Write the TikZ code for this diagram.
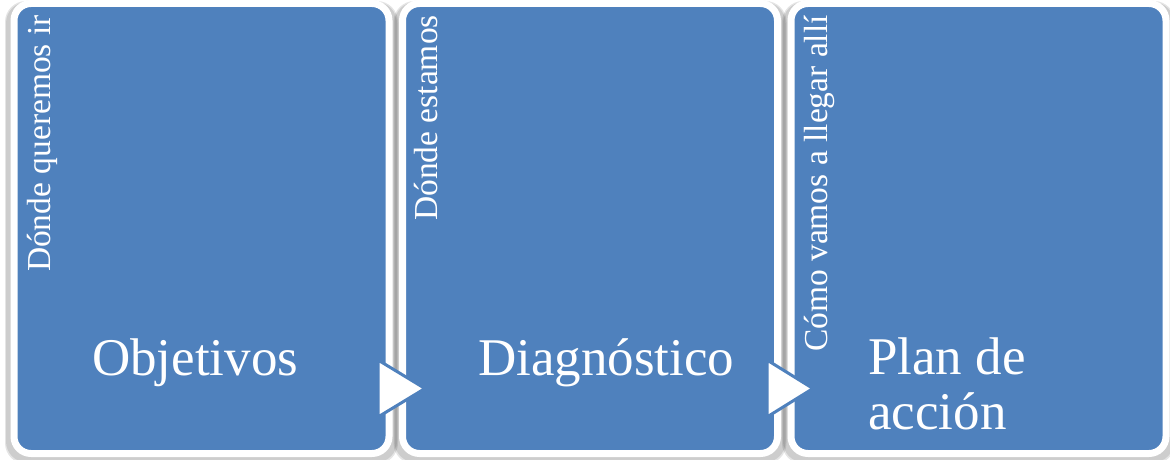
\documentclass[tikz,border=0pt]{standalone}
\usepackage{fontspec}
\setmainfont{Liberation Serif}
\usetikzlibrary{backgrounds}
\definecolor{panelblue}{HTML}{4F81BD}
\begin{document}
\begin{tikzpicture}[x=1pt,y=1pt,
  panel/.style={rectangle, fill=panelblue, draw=white, line width=7pt,
    rounded corners=17pt, minimum width=375pt, minimum height=450pt, inner sep=0pt},
  panelshadow/.style={fill=black, opacity=0.10, rounded corners=21pt},
  sidetext/.style={text=white, font=\fontsize{33.5}{36}\selectfont, rotate=90,
    anchor=base east, inner sep=0pt},
  titletext/.style={text=white, font=\fontsize{53}{55}\selectfont, inner sep=0pt, align=left},
  arrowtri/.style={fill=white, draw=panelblue, line width=3pt, line join=miter}]
\useasboundingbox (0,0) rectangle (1170,459);

\node[panel] (box1) at (201.5,230.5) {};
\node[panel] (box2) at (590,230.5) {};
\node[panel] (box3) at (978.5,230.5) {};

\begin{scope}[on background layer]
\fill[white] (0,0) rectangle (1170,459);
\foreach \b in {box1,box2,box3}{
  \fill[panelshadow] ([shift={(-5.5,-7)}]\b.south west) rectangle ([shift={(5.5,-1)}]\b.north east);
  \fill[panelshadow] ([shift={(-4.5,-5.5)}]\b.south west) rectangle ([shift={(4.5,-2)}]\b.north east);
}
\end{scope}

\draw[arrowtri] (378,99) -- (378,42) -- (425,70.5) -- cycle;
\draw[arrowtri] (767,99) -- (767,42) -- (813,70.5) -- cycle;

\node[sidetext] (s1) at (50,444) {Dónde queremos ir};
\node[sidetext] (s2) at (437,444) {Dónde estamos};
\node[sidetext] (s3) at (827,444) {Cómo vamos a llegar allí};

\node[titletext, anchor=base west] (t1) at (92,84) {Objetivos};
\node[titletext, anchor=base west] (t2) at (478,84) {Diagnóstico};
\node[titletext, anchor=north west] (t3) at (868,121) {Plan de\\acción};
\end{tikzpicture}
\end{document}
